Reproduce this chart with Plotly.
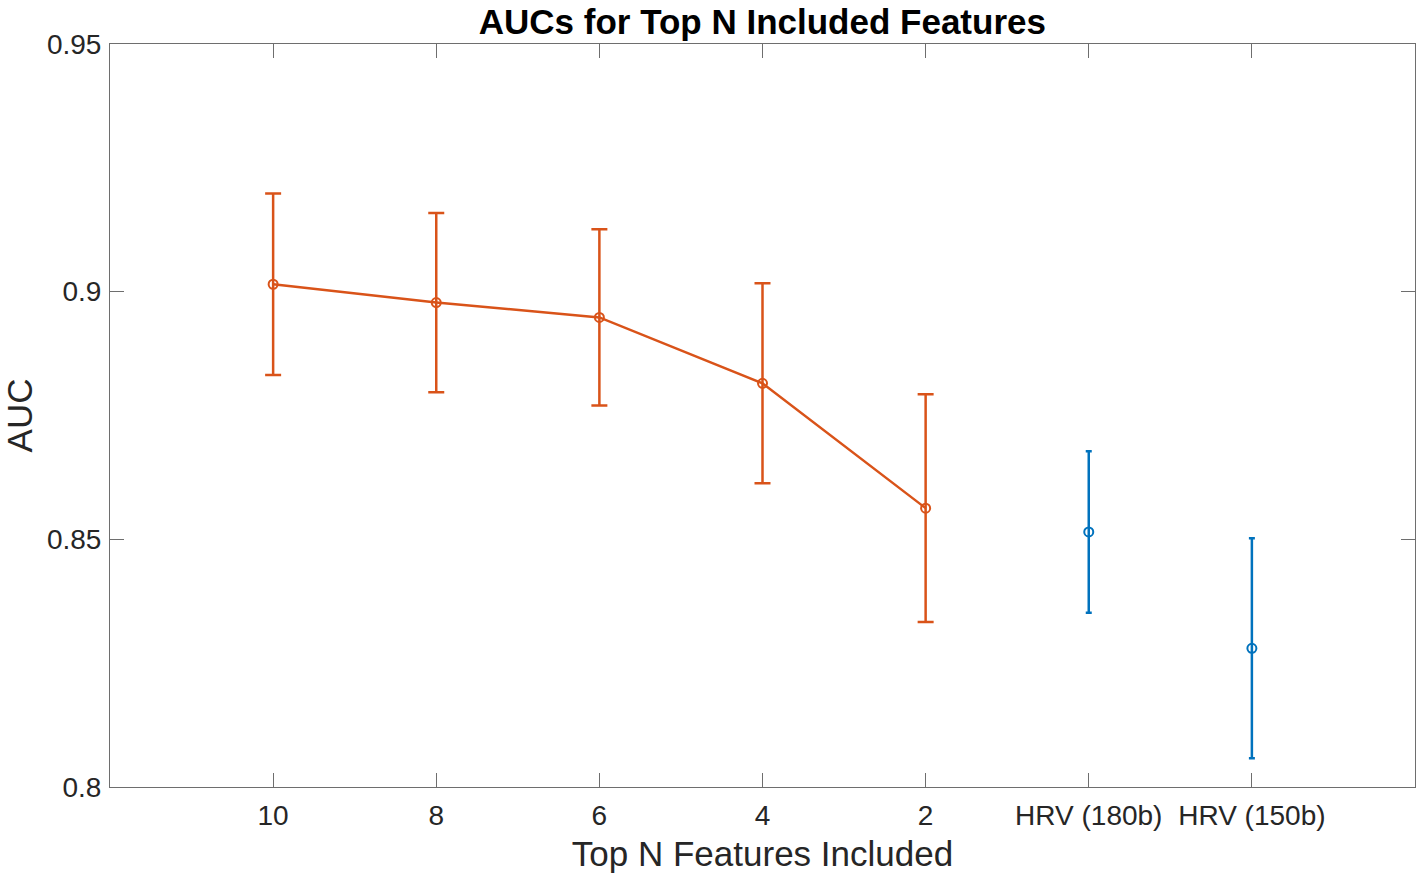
import plotly.graph_objects as go

# Category positions and labels along the x axis
positions = [1, 2, 3, 4, 5, 6, 7]
tick_labels = ["10", "8", "6", "4", "2", "HRV (180b)", "HRV (150b)"]

# Mean AUC and error half-widths for the top-N feature models
topn_x = [1, 2, 3, 4, 5]
topn_auc = [0.9015, 0.8978, 0.8948, 0.8815, 0.8563]
topn_err = [0.0183, 0.0181, 0.0178, 0.0202, 0.0230]

# HRV baseline models
hrv_x = [6, 7]
hrv_auc = [0.8515, 0.8280]
hrv_err = [0.0163, 0.0222]

orange = "#D95319"
blue = "#0072BD"
font_family = "Liberation Sans, Arial, Helvetica, sans-serif"
axis_color = "#6e6e6e"

fig = go.Figure()

fig.add_trace(go.Scatter(
    x=topn_x, y=topn_auc,
    mode="lines+markers",
    line=dict(color=orange, width=2.5),
    marker=dict(symbol="circle-open", size=9, color=orange, line=dict(width=2, color=orange)),
    error_y=dict(type="data", array=topn_err, visible=True, color=orange, thickness=2.5, width=8),
    showlegend=False,
))

fig.add_trace(go.Scatter(
    x=hrv_x, y=hrv_auc,
    mode="markers",
    marker=dict(symbol="circle-open", size=9, color=blue, line=dict(width=2, color=blue)),
    error_y=dict(type="data", array=hrv_err, visible=True, color=blue, thickness=2.5, width=3),
    showlegend=False,
))

fig.update_layout(
    width=1421, height=873,
    margin=dict(l=110, r=6, t=44, b=86),
    paper_bgcolor="white",
    plot_bgcolor="white",
    font=dict(family=font_family, color="#262626"),
    title=dict(
        text="<b>AUCs for Top N Included Features</b>",
        x=0.5365, xanchor="center", y=0.975, yanchor="middle",
        font=dict(size=35, color="black", family=font_family),
    ),
)

fig.update_xaxes(
    range=[0, 8],
    tickvals=positions, ticktext=tick_labels,
    ticks="inside", ticklen=14, tickwidth=1, tickcolor=axis_color,
    showline=True, linecolor=axis_color, linewidth=1, mirror="ticks",
    showgrid=False, zeroline=False,
    tickfont=dict(size=28, color="#262626"),
    ticklabelstandoff=3,
    title=dict(text="Top N Features Included", font=dict(size=35, color="#262626"), standoff=11),
)

fig.update_yaxes(
    range=[0.8, 0.95],
    tickvals=[0.8, 0.85, 0.9, 0.95], ticktext=["0.8", "0.85", "0.9", "0.95"],
    ticks="inside", ticklen=14, tickwidth=1, tickcolor=axis_color,
    showline=True, linecolor=axis_color, linewidth=1, mirror="ticks",
    showgrid=False, zeroline=False,
    tickfont=dict(size=28, color="#262626"),
    ticklabelstandoff=2,
    title=dict(text="AUC", font=dict(size=35, color="#262626"), standoff=5),
)

fig.write_html("out.html")
